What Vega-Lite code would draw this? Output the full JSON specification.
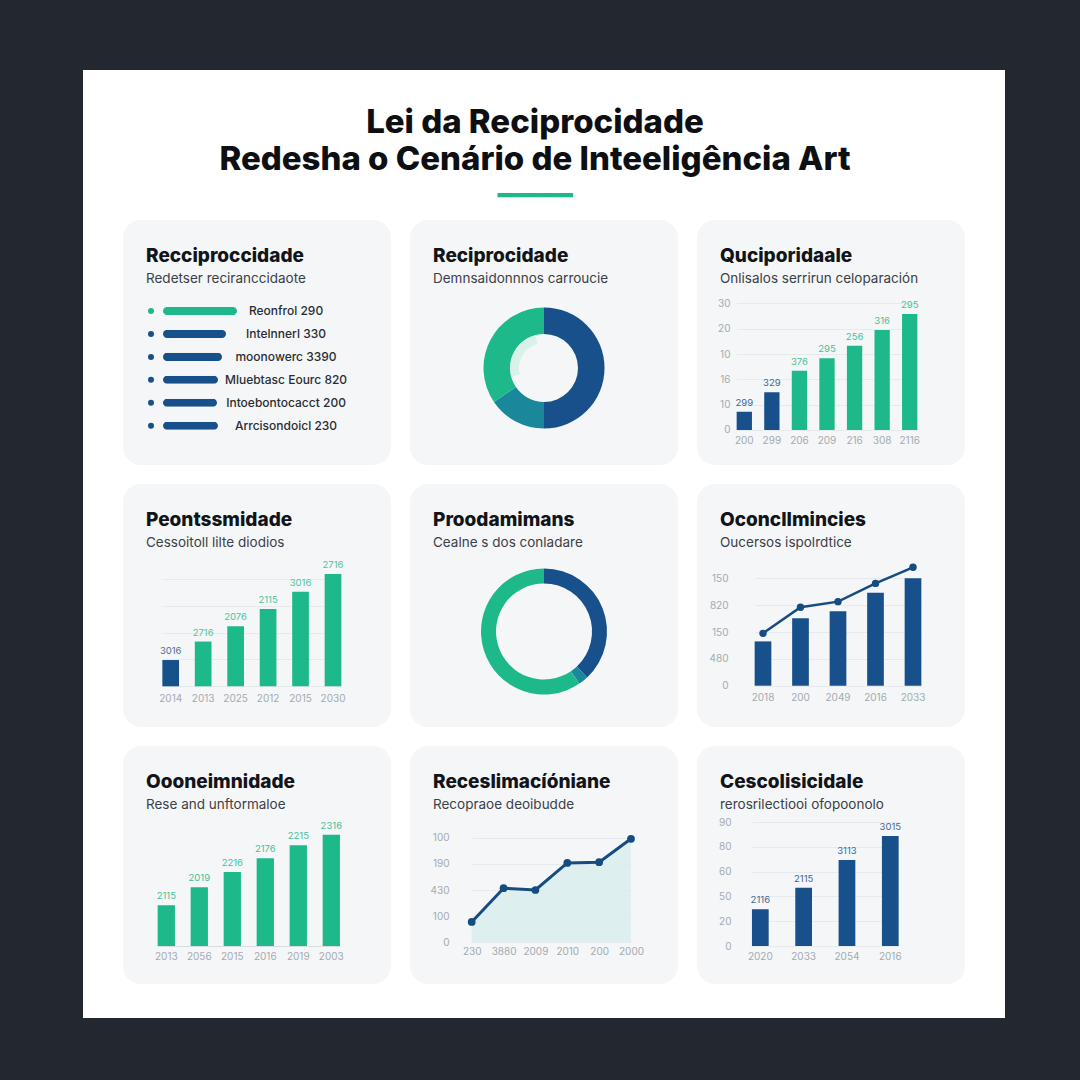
{
  "$schema": "https://vega.github.io/schema/vega-lite/v6.json",
  "padding": 0,
  "background": "#ffffff",
  "spacing": 0,
  "vconcat": [
    {"width": 1080, "height": 70, "data": {"values": []}, "mark": "point", "view": {"fill": "#23272f", "stroke": null}},
    {
      "spacing": 0,
      "hconcat": [
        {"width": 83, "height": 948, "data": {"values": []}, "mark": "point", "view": {"fill": "#23272f", "stroke": null}},
        {
          "spacing": 0,
          "vconcat": [
            {
              "width": 922, "height": 150,
              "data": {"values": []}, "mark": "point",
              "title": {"text": ["Lei da Reciprocidade", "Redesha o Cenário de Inteeligência Art"], "subtitle": "━━━━━", "anchor": "middle", "frame": "group", "dx": -9, "offset": -138.7, "fontSize": 33, "fontWeight": 800, "lineHeight": 37, "color": "#0d0f12", "subtitleFont": "DejaVu Sans", "subtitleFontSize": 25, "subtitleColor": "#1db98a", "subtitlePadding": 6.5}
            },
            {
              "spacing": 19,
              "hconcat": [
                {"width": 21, "height": 10, "data": {"values": []}, "mark": "point"},
                {
                  "spacing": 19,
                  "vconcat": [
                    {
                      "width": 268, "height": 245,
                      "view": {"fill": "#f4f6f7", "cornerRadius": 18, "stroke": null},
                      "title": {"text": "Recciproccidade", "subtitle": "Redetser reciranccidaote"},
                      "data": {"values": [
                        {"item": "Reonfrol 290", "valor": 74, "grupo": "B"},
                        {"item": "Intelnnerl 330", "valor": 63, "grupo": "A"},
                        {"item": "moonowerc 3390", "valor": 59, "grupo": "A"},
                        {"item": "Mluebtasc Eourc 820", "valor": 55, "grupo": "A"},
                        {"item": "Intoebontocacct 200", "valor": 54, "grupo": "A"},
                        {"item": "Arrcisondoicl 230", "valor": 55, "grupo": "A"}
                      ]},
                      "encoding": {
                        "y": {"field": "item", "type": "nominal", "sort": null, "axis": null, "scale": {"range": [87, 209.7], "paddingInner": 0.65, "paddingOuter": 0}},
                        "color": {"field": "grupo", "type": "nominal", "scale": {"domain": ["A", "B", "C", "D", "E"], "range": ["#17508a", "#1db98a", "#1a879b", "#c3ecdd", "rgba(255,255,255,0)"]}}
                      },
                      "layer": [
                        {"mark": {"type": "bar", "cornerRadius": 4}, "encoding": {"x": {"field": "valor", "type": "quantitative", "axis": null, "scale": {"domain": [-40, 228], "nice": false}}}},
                        {"mark": {"type": "point", "filled": true, "size": 36, "opacity": 1}, "encoding": {"x": {"datum": -12, "type": "quantitative"}}},
                        {"mark": {"type": "text", "align": "center", "fontSize": 12, "fontWeight": 500, "color": "#2a2e33"}, "encoding": {"x": {"datum": 123, "type": "quantitative"}, "text": {"field": "item"}, "color": {"value": "#2a2e33"}}}
                      ]
                    },
                    {
                      "width": 268, "height": 243,
                      "view": {"fill": "#f4f6f7", "cornerRadius": 18, "stroke": null},
                      "title": {"text": "Peontssmidade", "subtitle": "Cessoitoll lilte diodios"},
                      "data": {"values": [
                        {"ano": "2014", "valor": 9.8, "rotulo": "3016", "grupo": "A"},
                        {"ano": "2013", "valor": 16.7, "rotulo": "2716", "grupo": "B"},
                        {"ano": "2025", "valor": 22.4, "rotulo": "2076", "grupo": "B"},
                        {"ano": "2012", "valor": 28.8, "rotulo": "2115", "grupo": "B"},
                        {"ano": "2015", "valor": 35.3, "rotulo": "3016", "grupo": "B"},
                        {"ano": "2030", "valor": 41.9, "rotulo": "2716", "grupo": "B"}
                      ]},
                      "encoding": {
                        "x": {"field": "ano", "type": "nominal", "sort": null, "scale": {"range": [39.35, 218.35], "paddingInner": 0.486, "paddingOuter": 0}, "axis": {"offset": -38, "labelPadding": 4}},
                        "y": {"field": "valor", "type": "quantitative", "scale": {"domain": [-15.19, 75.49], "nice": false}, "axis": {"labels": false, "values": [0, 10, 20, 30, 40], "grid": true}},
                        "color": {"field": "grupo", "type": "nominal", "scale": {"domain": ["A", "B", "C", "D", "E"], "range": ["#17508a", "#1db98a", "#1a879b", "#c3ecdd", "rgba(255,255,255,0)"]}}
                      },
                      "layer": [
                        {"mark": {"type": "bar"}},
                        {"mark": {"type": "text", "dy": -4, "baseline": "bottom", "fontSize": 9.5, "opacity": 0.8}, "encoding": {"text": {"field": "rotulo"}}}
                      ]
                    },
                    {
                      "width": 268, "height": 238,
                      "view": {"fill": "#f4f6f7", "cornerRadius": 18, "stroke": null},
                      "title": {"text": "Oooneimnidade", "subtitle": "Rese and unftormaloe"},
                      "data": {"values": [
                        {"ano": "2013", "valor": 16.3, "rotulo": "2115", "grupo": "B"},
                        {"ano": "2056", "valor": 23.5, "rotulo": "2019", "grupo": "B"},
                        {"ano": "2015", "valor": 29.6, "rotulo": "2216", "grupo": "B"},
                        {"ano": "2016", "valor": 35.1, "rotulo": "2176", "grupo": "B"},
                        {"ano": "2019", "valor": 40.3, "rotulo": "2215", "grupo": "B"},
                        {"ano": "2003", "valor": 44.5, "rotulo": "2316", "grupo": "B"}
                      ]},
                      "encoding": {
                        "x": {"field": "ano", "type": "nominal", "sort": null, "scale": {"range": [34.65, 216.95], "paddingInner": 0.476, "paddingOuter": 0}, "axis": {"offset": -36.3, "labelPadding": 4}},
                        "y": {"field": "valor", "type": "quantitative", "scale": {"domain": [-15.2, 80], "nice": false}, "axis": {"labels": false, "values": [0], "grid": true, "gridColor": "#d8dde1"}},
                        "color": {"field": "grupo", "type": "nominal", "scale": {"domain": ["A", "B", "C", "D", "E"], "range": ["#17508a", "#1db98a", "#1a879b", "#c3ecdd", "rgba(255,255,255,0)"]}}
                      },
                      "layer": [
                        {"mark": {"type": "bar"}},
                        {"mark": {"type": "text", "dy": -4, "baseline": "bottom", "fontSize": 9.5, "opacity": 0.85}, "encoding": {"text": {"field": "rotulo"}}}
                      ]
                    }
                  ]
                },
                {
                  "spacing": 19,
                  "vconcat": [
                    {
                      "width": 268, "height": 245,
                      "view": {"fill": "#f4f6f7", "cornerRadius": 18, "stroke": null},
                      "title": {"text": "Reciprocidade", "subtitle": "Demnsaidonnnos carroucie"},
                      "layer": [
                        {
                          "data": {"values": [
                            {"segmento": "Azul", "v": 50, "ordem": 1, "grupo": "A"},
                            {"segmento": "Turquesa", "v": 15.5, "ordem": 2, "grupo": "C"},
                            {"segmento": "Verde", "v": 34.5, "ordem": 3, "grupo": "B"}
                          ]},
                          "mark": {"type": "arc", "outerRadius": 60.5, "innerRadius": 34, "yOffset": 25.5},
                          "encoding": {
                            "theta": {"field": "v", "type": "quantitative"},
                            "order": {"field": "ordem"},
                            "color": {"field": "grupo", "type": "nominal", "scale": {"domain": ["A", "B", "C", "D", "E"], "range": ["#17508a", "#1db98a", "#1a879b", "#c3ecdd", "rgba(255,255,255,0)"]}}
                          }
                        },
                        {
                          "data": {"values": [
                            {"segmento": "vazio", "v": 70.8, "ordem": 1, "grupo": "E"},
                            {"segmento": "brilho", "v": 25, "ordem": 2, "grupo": "D"},
                            {"segmento": "vazio2", "v": 4.2, "ordem": 3, "grupo": "E"}
                          ]},
                          "mark": {"type": "arc", "outerRadius": 34, "innerRadius": 25, "yOffset": 25.5, "opacity": 0.55},
                          "encoding": {
                            "theta": {"field": "v", "type": "quantitative"},
                            "order": {"field": "ordem"},
                            "color": {"field": "grupo", "type": "nominal", "scale": {"domain": ["A", "B", "C", "D", "E"], "range": ["#17508a", "#1db98a", "#1a879b", "#c3ecdd", "rgba(255,255,255,0)"]}}
                          }
                        }
                      ]
                    },
                    {
                      "width": 268, "height": 243,
                      "view": {"fill": "#f4f6f7", "cornerRadius": 18, "stroke": null},
                      "title": {"text": "Proodamimans", "subtitle": "Cealne s dos conladare"},
                      "data": {"values": [
                        {"segmento": "Azul", "v": 38, "ordem": 1, "grupo": "A"},
                        {"segmento": "Turquesa", "v": 2.5, "ordem": 2, "grupo": "C"},
                        {"segmento": "Verde", "v": 59.5, "ordem": 3, "grupo": "B"}
                      ]},
                      "mark": {"type": "arc", "outerRadius": 63, "innerRadius": 48, "yOffset": 26},
                      "encoding": {
                        "theta": {"field": "v", "type": "quantitative"},
                        "order": {"field": "ordem"},
                        "color": {"field": "grupo", "type": "nominal", "scale": {"domain": ["A", "B", "C", "D", "E"], "range": ["#17508a", "#1db98a", "#1a879b", "#c3ecdd", "rgba(255,255,255,0)"]}}
                      }
                    },
                    {
                      "width": 268, "height": 238,
                      "view": {"fill": "#f4f6f7", "cornerRadius": 18, "stroke": null},
                      "title": {"text": "Receslimacíóniane", "subtitle": "Recopraoe deoibudde"},
                      "data": {"values": [
                        {"ano": "230", "valor": 7.7},
                        {"ano": "3880", "valor": 20.7},
                        {"ano": "2009", "valor": 20},
                        {"ano": "2010", "valor": 30.4},
                        {"ano": "200", "valor": 30.7},
                        {"ano": "2000", "valor": 39.7}
                      ]},
                      "encoding": {
                        "x": {"field": "ano", "type": "nominal", "sort": null, "scale": {"type": "point", "range": [61.7, 221], "padding": 0}, "axis": {"offset": -42, "labelPadding": 4}},
                        "y": {"field": "valor", "type": "quantitative", "scale": {"domain": [-16.15, 75.38], "nice": false}, "axis": {"offset": -50, "labelPadding": 11, "values": [0, 10, 20, 30, 40], "grid": true, "labelExpr": "datum.value==40?'100':datum.value==30?'190':datum.value==20?'430':datum.value==10?'100':'0'"}}
                      },
                      "layer": [
                        {"mark": {"type": "area", "color": "#d8eded", "opacity": 0.85}},
                        {"mark": {"type": "line", "color": "#164c80", "strokeWidth": 3}},
                        {"mark": {"type": "point", "filled": true, "color": "#164c80", "size": 60, "opacity": 1}}
                      ]
                    }
                  ]
                },
                {
                  "spacing": 19,
                  "vconcat": [
                    {
                      "width": 268, "height": 245,
                      "view": {"fill": "#f4f6f7", "cornerRadius": 18, "stroke": null},
                      "title": {"text": "Quciporidaale", "subtitle": "Onlisalos serrirun celoparación"},
                      "data": {"values": [
                        {"ano": "200", "valor": 7.2, "rotulo": "299", "grupo": "A"},
                        {"ano": "299", "valor": 14.9, "rotulo": "329", "grupo": "A"},
                        {"ano": "206", "valor": 23.4, "rotulo": "376", "grupo": "B"},
                        {"ano": "209", "valor": 28.3, "rotulo": "295", "grupo": "B"},
                        {"ano": "216", "valor": 33.3, "rotulo": "256", "grupo": "B"},
                        {"ano": "308", "valor": 39.5, "rotulo": "316", "grupo": "B"},
                        {"ano": "2116", "valor": 45.8, "rotulo": "295", "grupo": "B"}
                      ]},
                      "encoding": {
                        "x": {"field": "ano", "type": "nominal", "sort": null, "scale": {"range": [39.65, 220.35], "paddingInner": 0.445, "paddingOuter": 0}, "axis": {"offset": -33.3, "labelPadding": 4}},
                        "y": {"field": "valor", "type": "quantitative", "scale": {"domain": [-13.82, 82.9], "nice": false}, "axis": {"offset": -38, "labelPadding": 5, "values": [0, 10, 20, 30, 40, 50], "grid": true, "labelExpr": "datum.value==50?'30':datum.value==40?'20':datum.value==30?'10':datum.value==20?'16':datum.value==10?'10':'0'"}},
                        "color": {"field": "grupo", "type": "nominal", "scale": {"domain": ["A", "B", "C", "D", "E"], "range": ["#17508a", "#1db98a", "#1a879b", "#c3ecdd", "rgba(255,255,255,0)"]}}
                      },
                      "layer": [
                        {"mark": {"type": "bar"}},
                        {"mark": {"type": "text", "dy": -4, "baseline": "bottom", "fontSize": 9.5, "opacity": 0.85}, "encoding": {"text": {"field": "rotulo"}}}
                      ]
                    },
                    {
                      "width": 268, "height": 243,
                      "view": {"fill": "#f4f6f7", "cornerRadius": 18, "stroke": null},
                      "title": {"text": "Oconcllmincies", "subtitle": "Oucersos ispolrdtice"},
                      "data": {"values": [
                        {"ano": "2018", "valor": 16.5, "linha": 19.5, "grupo": "A"},
                        {"ano": "200", "valor": 25.1, "linha": 29.2, "grupo": "A"},
                        {"ano": "2049", "valor": 27.7, "linha": 31.3, "grupo": "A"},
                        {"ano": "2016", "valor": 34.6, "linha": 38.1, "grupo": "A"},
                        {"ano": "2033", "valor": 40, "linha": 44.1, "grupo": "A"}
                      ]},
                      "encoding": {
                        "x": {"field": "ano", "type": "nominal", "sort": null, "scale": {"range": [57.65, 224.35], "paddingInner": 0.555, "paddingOuter": 0}, "axis": {"offset": -38.7, "labelPadding": 4}}
                      },
                      "layer": [
                        {"mark": {"type": "bar"}, "encoding": {
                          "y": {"field": "valor", "type": "quantitative", "scale": {"domain": [-15.38, 75.12], "nice": false}, "axis": {"offset": -45, "labelPadding": 14, "values": [0, 10, 20, 30, 40], "grid": true, "labelExpr": "datum.value==40?'150':datum.value==30?'820':datum.value==20?'150':datum.value==10?'480':'0'"}},
                          "color": {"field": "grupo", "type": "nominal", "scale": {"domain": ["A", "B", "C", "D", "E"], "range": ["#17508a", "#1db98a", "#1a879b", "#c3ecdd", "rgba(255,255,255,0)"]}}
                        }},
                        {"mark": {"type": "line", "color": "#164c80", "strokeWidth": 2.5}, "encoding": {"y": {"field": "linha", "type": "quantitative"}}},
                        {"mark": {"type": "point", "filled": true, "color": "#164c80", "size": 55, "opacity": 1}, "encoding": {"y": {"field": "linha", "type": "quantitative"}}}
                      ]
                    },
                    {
                      "width": 268, "height": 238,
                      "view": {"fill": "#f4f6f7", "cornerRadius": 18, "stroke": null},
                      "title": {"text": "Cescolisicidale", "subtitle": "rerosrilectiooi ofopoonolo"},
                      "data": {"values": [
                        {"ano": "2020", "valor": 14.8, "rotulo": "2116", "grupo": "A"},
                        {"ano": "2033", "valor": 23.5, "rotulo": "2115", "grupo": "A"},
                        {"ano": "2054", "valor": 34.7, "rotulo": "3113", "grupo": "A"},
                        {"ano": "2016", "valor": 44.4, "rotulo": "3015", "grupo": "A"}
                      ]},
                      "encoding": {
                        "x": {"field": "ano", "type": "nominal", "sort": null, "scale": {"range": [54.95, 201.65], "paddingInner": 0.614, "paddingOuter": 0}, "axis": {"offset": -36.3, "labelPadding": 4}},
                        "y": {"field": "valor", "type": "quantitative", "scale": {"domain": [-15.32, 80.65], "nice": false}, "axis": {"offset": -42, "labelPadding": 8, "values": [0, 10, 20, 30, 40, 50], "grid": true, "labelExpr": "datum.value==50?'90':datum.value==40?'80':datum.value==30?'60':datum.value==20?'50':datum.value==10?'20':'0'"}},
                        "color": {"field": "grupo", "type": "nominal", "scale": {"domain": ["A", "B", "C", "D", "E"], "range": ["#17508a", "#1db98a", "#1a879b", "#c3ecdd", "rgba(255,255,255,0)"]}}
                      },
                      "layer": [
                        {"mark": {"type": "bar"}},
                        {"mark": {"type": "text", "dy": -4, "baseline": "bottom", "fontSize": 9.5, "opacity": 0.85}, "encoding": {"text": {"field": "rotulo"}}}
                      ]
                    }
                  ]
                }
              ]
            }
          ]
        },
        {"width": 75, "height": 948, "data": {"values": []}, "mark": "point", "view": {"fill": "#23272f", "stroke": null}}
      ]
    },
    {"width": 1080, "height": 62, "data": {"values": []}, "mark": "point", "view": {"fill": "#23272f", "stroke": null}}
  ],
  "config": {
    "view": {"stroke": null},
    "legend": {"disable": true},
    "axis": {"domain": false, "ticks": false, "tickSize": 0, "title": null, "labelFont": "Inter", "labelFontSize": 10, "labelColor": "#a3abb2", "gridColor": "#e6eaed", "gridWidth": 1, "labelOverlap": false},
    "axisX": {"grid": false, "labelAngle": 0},
    "title": {"anchor": "start", "frame": "group", "font": "Inter", "fontSize": 19, "fontWeight": 800, "color": "#111418", "subtitleFont": "Inter", "subtitleFontSize": 13.5, "subtitleColor": "#3b4148", "subtitlePadding": 5.7, "offset": -65, "dx": 23},
    "text": {"font": "Inter"}
  }
}
